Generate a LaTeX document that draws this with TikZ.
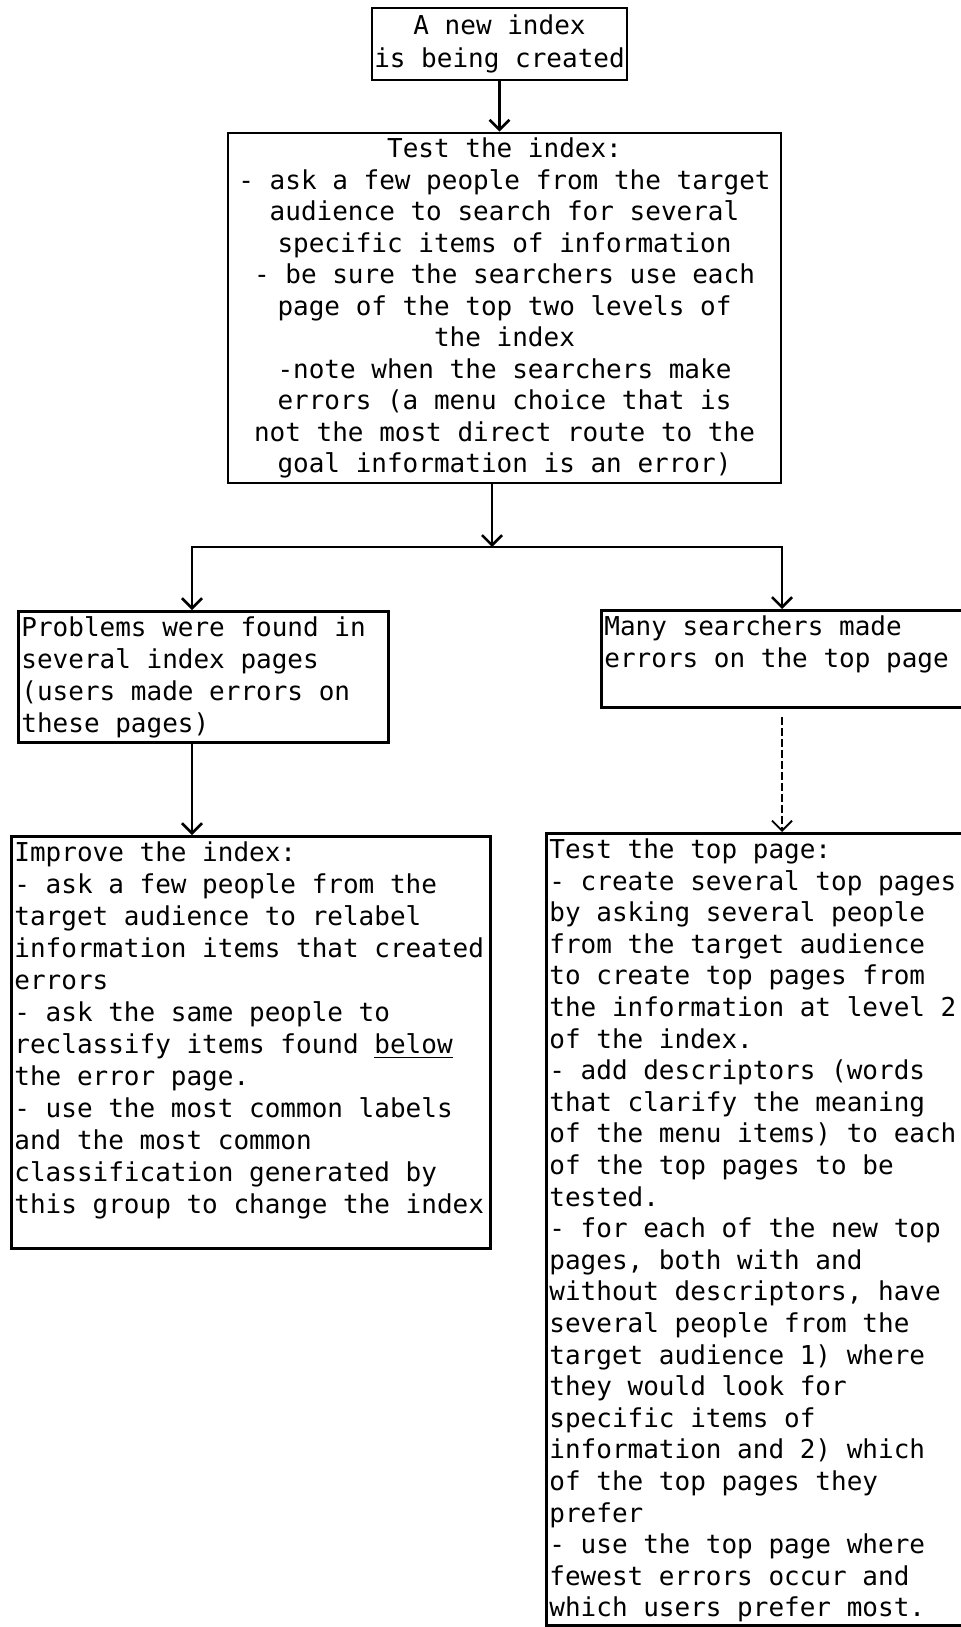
\documentclass[tikz,border=0pt]{standalone}
\usepackage{fontspec}
\usepackage{tikz}
\setmonofont{DejaVu Sans Mono}
\usetikzlibrary{arrows.meta,positioning}

\begin{document}
\begin{tikzpicture}[
    x=0.5pt, y=-0.5pt,
    flowbox/.style={rectangle, draw, line width=1.4pt, inner sep=1.5pt, font=\fontsize{13}{16}\selectfont\ttfamily},
    topbox/.style={flowbox, align=center, inner sep=1pt, font=\fontsize{13}{15.75}\selectfont\ttfamily},
    sidebox/.style={flowbox, anchor=north west},
    flow/.style={line width=1.3pt, -{Straight Barb[length=5pt,width=10pt]}},
    splitflow/.style={line width=1.3pt, {Straight Barb[length=5pt,width=10pt]}-{Straight Barb[length=5pt,width=10pt]}},
    dashflow/.style={flow, line width=0.9pt, dash pattern=on 4pt off 1.5pt}
]
\useasboundingbox (0,0) rectangle (961,1627);

% Nodes
\node[topbox, minimum width=127.5pt, minimum height=36pt, font=\fontsize{13}{16.5}\selectfont\ttfamily] (newidx) at (499.5,44) {A new index\\is being created};
\node[topbox, minimum width=276.5pt, minimum height=175pt] (testidx) at (504.5,308) {Test the index:\\
- ask a few people from the target\\
audience to search for several\\
specific items of information\\
- be sure the searchers use each\\
page of the top two levels of\\
the index\\
-note when the searchers make\\
errors (a menu choice that is\\
not the most direct route to the\\
goal information is an error)};
\node[sidebox] (probs) at (17,610) {\parbox[c][62.5pt][t]{182pt}{\raggedright\strut Problems were found in\\
several index pages\\
(users made errors on\\
these pages)}};
\node[sidebox] (manyerr) at (600,609) {\parbox[c][45.5pt][t]{184.5pt}{\raggedright\strut Many searchers made\\
errors on the top page}};
\node[sidebox] (improve) at (10,835) {\parbox[c][203pt][t]{236.5pt}{\raggedright\strut Improve the index:\\
- ask a few people from the\\
target audience to relabel\\
information items that created\\
errors\\
- ask the same people to\\
reclassify items found \underline{below}\\
the error page.\\
- use the most common labels\\
and the most common\\
classification generated by\\
this group to change the index}};
\node[sidebox, font=\fontsize{13}{15.8}\selectfont\ttfamily] (testtop) at (545,832) {\parbox[c][393pt][t]{212pt}{\raggedright\strut Test the top page:\\
- create several top pages\\
by asking several people\\
from the target audience\\
to create top pages from\\
the information at level 2\\
of the index.\\
- add descriptors (words\\
that clarify the meaning\\
of the menu items) to each\\
of the top pages to be\\
tested.\\
- for each of the new top\\
pages, both with and\\
without descriptors, have\\
several people from the\\
target audience 1) where\\
they would look for\\
specific items of\\
information and 2) which\\
of the top pages they\\
prefer\\
- use the top page where\\
fewest errors occur and\\
which users prefer most.}};

% Edges
\coordinate (split) at (492,547);
\coordinate (splitL) at (192,547);
\coordinate (splitR) at (782,547);
\draw[flow] (newidx.south) -- (newidx.south |- testidx.north);
\draw[flow] (split |- testidx.south) -- (split);
\draw[splitflow] (splitL |- probs.north) -- (splitL) -- (splitR) -- (splitR |- manyerr.north);
\draw[flow] (splitL |- probs.south) -- (splitL |- improve.north);
\draw[dashflow, shorten <=4pt] (splitR |- manyerr.south) -- (splitR |- testtop.north);
\end{tikzpicture}
\end{document}
